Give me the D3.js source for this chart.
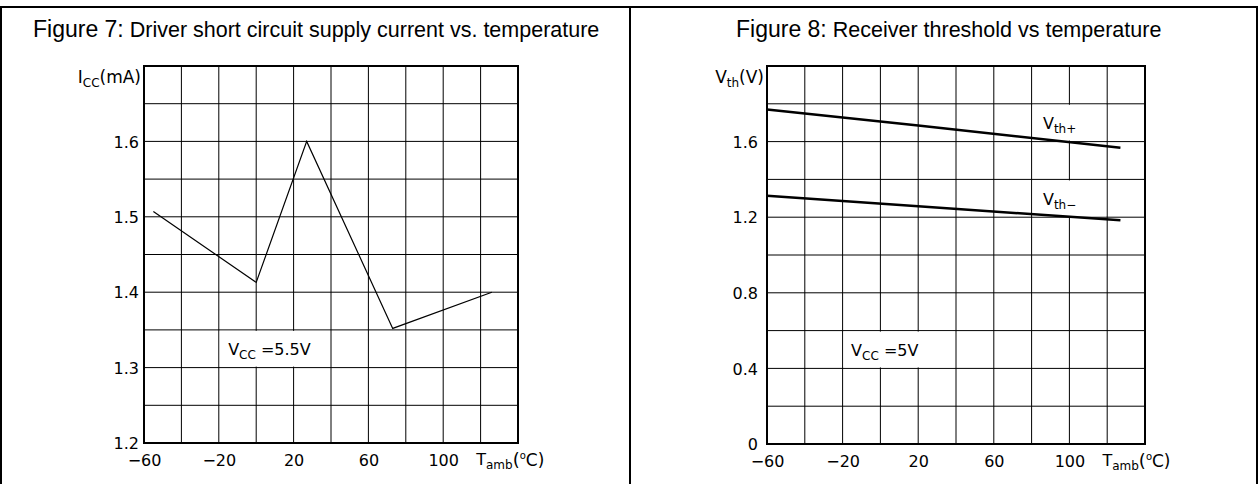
<!DOCTYPE html>
<html><head><meta charset="utf-8">
<script src="https://cdn.jsdelivr.net/npm/d3@7"></script>
<style>
body{margin:0;background:#fff;}
svg text{font-family:"DejaVu Sans",Verdana,sans-serif;fill:#000;}
svg text.title{font-family:"Liberation Sans",Arial,Helvetica,sans-serif;}
</style>
</head><body>
<svg id="chart" width="1258" height="484"></svg>
<script>
// ---- data ----
const tempTicks = [-60, -20, 20, 60, 100];
const fig7Temp = [-55, 0, 27, 73, 126];
const fig7Icc = [1.507, 1.413, 1.6, 1.352, 1.4];
const fig7YTicks = [1.2, 1.3, 1.4, 1.5, 1.6];
const fig8Temp = [-60, 20, 127];
const fig8VthPlus = [1.77, 1.685, 1.568];
const fig8VthMinus = [1.314, 1.258, 1.184];
const fig8YTicks = [0, 0.4, 0.8, 1.2, 1.6];

const svg = d3.select("#chart");

// panel borders
svg.append("path").attr("d", "M1,484 V7 H1257 V484").attr("fill","none").attr("stroke","#000").attr("stroke-width",2);
svg.append("line").attr("x1",630).attr("x2",630).attr("y1",7).attr("y2",484)
  .attr("stroke","#000").attr("stroke-width",2);

function subText(g, x, y, parts, anchor) {
  const t = g.append("text").attr("x", x).attr("y", y).attr("text-anchor", anchor || "start");
  parts.forEach(p => {
    const s = t.append("tspan").text(p.t).attr("font-size", p.fs);
    if (p.dy) s.attr("dy", p.dy);
  });
  return t;
}

function panel(opts) {
  const g = svg.append("g");
  const x = d3.scaleLinear().domain([-60, 140]).range([opts.x0, opts.x1]);
  const y = d3.scaleLinear().domain(opts.yDomain).range([opts.y1, opts.y0]);

  // title
  const tt = g.append("text").attr("class", "title").attr("x", opts.titleX).attr("y", 37);
  tt.append("tspan").text(opts.titleA).attr("font-size", 23);
  tt.append("tspan").text(opts.titleB).attr("font-size", 21.5);

  // grid
  g.append("g").selectAll("line").data(x.ticks(10)).join("line")
    .attr("x1", d => x(d)).attr("x2", d => x(d)).attr("y1", y.range()[1]).attr("y2", y.range()[0])
    .attr("stroke", "#000").attr("stroke-width", 1);
  g.append("g").selectAll("line").data(y.ticks(10)).join("line")
    .attr("y1", d => y(d)).attr("y2", d => y(d)).attr("x1", x.range()[0]).attr("x2", x.range()[1])
    .attr("stroke", "#000").attr("stroke-width", 1);

  // label masks
  opts.masks.forEach(m => {
    g.append("rect").attr("x", x(m.x0) + 1).attr("width", x(m.x1) - x(m.x0) - 2)
      .attr("y", y(m.y1) + 1).attr("height", y(m.y0) - y(m.y1) - 2).attr("fill", "#fff");
  });

  // axes
  const ya = g.append("g").attr("transform", `translate(${opts.x0},0)`)
    .call(d3.axisLeft(y).tickValues(opts.yTicks).tickSize(0).tickPadding(opts.yPad).tickFormat(d3.format("")));
  ya.select(".domain").remove();
  ya.selectAll("text").attr("font-size", 16).attr("font-family", null).attr("dy", "0.36em");

  const xa = g.append("g").attr("transform", `translate(0,${opts.y1})`)
    .call(d3.axisBottom(x).tickValues(tempTicks).tickSize(0).tickPadding(12).tickFormat(d => d < 0 ? "\u2212" + Math.abs(d) : d));
  xa.select(".domain").remove();
  xa.selectAll("text").attr("font-size", 16).attr("font-family", null);

  // axis titles
  subText(g, opts.x0 - 3, opts.y0 + 17, opts.yLabel, "end");
  subText(g, x(100) + 33, opts.y1 + 22, [
    {t:"T", fs:16}, {t:"amb", fs:12, dy:4}, {t:"(", fs:18, dy:-3}, {t:"o", fs:10, dy:-7}, {t:"C)", fs:17, dy:7}
  ]);

  // annotations
  opts.notes.forEach(n => subText(g, x(n.x), y(n.y), n.parts));

  // data
  opts.series.forEach(s => {
    const line = d3.line().x((d, i) => x(s.xs[i])).y(d => y(d));
    g.append("path").attr("d", line(s.ys)).attr("fill", "none").attr("stroke", "#000")
      .attr("stroke-width", s.w);
  });

  // frame
  g.append("rect").attr("x", opts.x0).attr("y", opts.y0).attr("width", opts.x1 - opts.x0)
    .attr("height", opts.y1 - opts.y0).attr("fill", "none").attr("stroke", "#000").attr("stroke-width", 2);
}

panel({
  x0: 144, x1: 518, y0: 66, y1: 443, yDomain: [1.2, 1.7], yTicks: fig7YTicks, yPad: 5,
  titleX: 33, titleA: "Figure 7:", titleB: " Driver short circuit supply current vs. temperature",
  yLabel: [{t:"I", fs:17}, {t:"CC", fs:12, dy:4}, {t:"(mA)", fs:17, dy:-4}],
  masks: [{x0: -20, x1: 40, y0: 1.3, y1: 1.35}],
  notes: [{x: -15, y: 1.317, parts: [{t:"V", fs:16}, {t:"CC", fs:12, dy:4}, {t:" =5.5V", fs:16, dy:-4}]}],
  series: [{xs: fig7Temp, ys: fig7Icc, w: 1.2}]
});

panel({
  x0: 767, x1: 1145, y0: 66, y1: 444, yDomain: [0, 2.0], yTicks: fig8YTicks, yPad: 9,
  titleX: 736, titleA: "Figure 8:", titleB: " Receiver threshold vs temperature",
  yLabel: [{t:"V", fs:17}, {t:"th", fs:12, dy:4}, {t:"(V)", fs:17, dy:-4}],
  masks: [{x0: -20, x1: 40, y0: 0.4, y1: 0.6}, {x0: 80, x1: 120, y0: 1.6, y1: 1.8}, {x0: 80, x1: 120, y0: 1.2, y1: 1.4}],
  notes: [
    {x: -15.5, y: 0.465, parts: [{t:"V", fs:16}, {t:"CC", fs:12, dy:4}, {t:" =5V", fs:16, dy:-4}]},
    {x: 86, y: 1.665, parts: [{t:"V", fs:16}, {t:"th+", fs:12, dy:4}]},
    {x: 86, y: 1.265, parts: [{t:"V", fs:16}, {t:"th\u2212", fs:12, dy:4}]}
  ],
  series: [{xs: fig8Temp, ys: fig8VthPlus, w: 2.5}, {xs: fig8Temp, ys: fig8VthMinus, w: 2.5}]
});
</script>
</body></html>
